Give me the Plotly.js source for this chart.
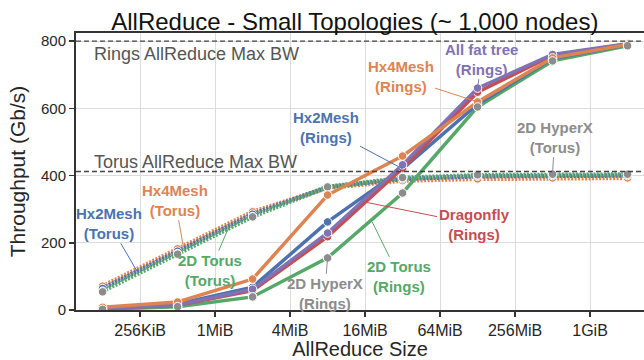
<!DOCTYPE html>
<html><head><meta charset="utf-8">
<script src="https://cdn.plot.ly/plotly-3.0.1.min.js"></script>
<style>html,body{margin:0;padding:0;background:#fff}#chart{width:644px;height:360px}</style>
</head><body><div id="chart"></div>
<script>
// message sizes (bytes)
const sizes = [131072, 524288, 2097152, 8388608, 33554432, 134217728, 536870912, 2147483648];
const tickVals = [262144, 1048576, 4194304, 16777216, 67108864, 268435456, 1073741824];
const tickText = ['256KiB', '1MiB', '4MiB', '16MiB', '64MiB', '256MiB', '1GiB'];

// Torus AllReduce series (Gb/s)
const hx4meshTorus  = [71, 182, 292, 363, 385, 390, 393, 393];
const hx2meshTorus  = [64, 175, 285, 366, 390, 398, 400, 400];
const torus2dTorus  = [56, 168, 278, 366, 393, 401, 403, 403];
const hyperxTorus   = [54, 166, 277, 366, 394, 402, 404, 404];

// Rings AllReduce series (Gb/s)
const hx4meshRings  = [8, 24, 92, 342, 458, 619, 750, 790];
const hx2meshRings  = [5, 18, 68, 262, 420, 612, 748, 789];
const fattreeRings  = [4, 15, 62, 229, 432, 660, 760, 792];
const dragonflyRings= [4, 14, 58, 218, 422, 648, 757, 791];
const torus2dRings  = [2, 10, 39, 155, 348, 604, 741, 786];
const hyperxRings   = [2, 10, 39, 155, 348, 604, 741, 786];

// max bandwidth reference lines
const ringsMaxBW = 800;
const torusMaxBW = 412;

const C = {blue:'#4C72B0', orange:'#DD8452', green:'#55A868', red:'#C44E52', purple:'#8172B3', gray:'#8C8C8C'};

function tr(y, color, dotted, mode){
  return {x: sizes, y: y, type:'scatter', mode: mode || 'lines+markers',
    line:{color:color, width: dotted ? 4.5 : 3.5, dash: dotted ? '2px,1.5px' : 'solid'},
    marker:{color:color, size:8.5, line:{color:'#fff', width:1}}, showlegend:false, hoverinfo:'skip'};
}
const data = [
  tr(hx4meshTorus, C.orange, true),
  tr(hx2meshTorus, C.blue, true),
  tr(torus2dTorus, C.green, true),
  tr(hyperxTorus, C.gray, true, 'markers'),
  tr(torus2dRings, C.green, false),
  tr(hx2meshRings, C.blue, false),
  tr(dragonflyRings, C.red, false),
  tr(fattreeRings, C.purple, false),
  tr(hx4meshRings, C.orange, false),
  tr(hyperxRings, C.gray, false, 'markers')
];

const L = Math.log10;
function ann(txt, color, xb, y, ax, ay){
  return {x: L(xb), y: y, xref:'x', yref:'y', text:'<b>'+txt+'</b>', showarrow:true,
    arrowhead:0, arrowwidth:1, arrowcolor:color, ax:ax, ay:ay, standoff:0,
    font:{family:'Liberation Sans, Arial, sans-serif', size:15, color:color}, align:'center'};
}
const annotations = [
  ann('All fat tree<br>(Rings)', C.purple, sizes[5], fattreeRings[5], 4, -29),
  ann('Hx4Mesh<br>(Rings)', C.orange, sizes[5], hx4meshRings[5], -77, -25),
  ann('Hx2Mesh<br>(Rings)', C.blue, sizes[4], hx2meshRings[4], -77, -41),
  ann('2D HyperX<br>(Torus)', C.gray, sizes[6], hyperxTorus[6], 2, -37),
  ann('Dragonfly<br>(Rings)', C.red, 16777216, 321, 109, 22),
  ann('2D Torus<br>(Rings)', C.green, Math.pow(2,24.19), 262, 27, 55),
  ann('2D HyperX<br>(Rings)', C.gray, sizes[3], hyperxRings[3], -3, 36),
  ann('2D Torus<br>(Torus)', C.green, Math.pow(2,20.35), 242, -18, 42),
  ann('Hx4Mesh<br>(Torus)', C.orange, Math.pow(2,19.15), 190, -8, -46),
  ann('Hx2Mesh<br>(Torus)', C.blue, Math.pow(2,17.92), 115, -28, -48),
  {x:0.029, y:ringsMaxBW, xref:'paper', yref:'y', text:'Rings AllReduce Max BW', showarrow:false,
   xanchor:'left', yanchor:'top', yshift:-1, font:{family:'Liberation Sans, Arial, sans-serif', size:18, color:'#555'}},
  {x:0.029, y:torusMaxBW, xref:'paper', yref:'y', text:'Torus AllReduce Max BW', showarrow:false,
   xanchor:'left', yanchor:'bottom', yshift:-2, font:{family:'Liberation Sans, Arial, sans-serif', size:18, color:'#555'}}
];

const layout = {
  width:644, height:360, margin:{l:76, r:0, t:33, b:50},
  paper_bgcolor:'#fff', plot_bgcolor:'#fff',
  font:{family:'Liberation Sans, Arial, sans-serif', color:'#262626'},
  title:{text:'AllReduce - Small Topologies (~ 1,000 nodes)', x:0.551, xanchor:'center', y:0.917, yanchor:'bottom',
    font:{size:24, color:'#111'}},
  xaxis:{type:'log', range:[4.904, 9.464], tickvals:tickVals, ticktext:tickText,
    showgrid:true, gridcolor:'#dcdcdc', gridwidth:1, zeroline:false,
    showline:true, linecolor:'#333', linewidth:2, mirror:true,
    ticks:'outside', ticklen:5, tickcolor:'#333', tickwidth:1.5,
    tickfont:{size:16, color:'#262626'},
    title:{text:'AllReduce Size', font:{size:20, color:'#262626'}, standoff:4}},
  yaxis:{range:[0, 824], tickvals:[0,200,400,600,800], showgrid:true, gridcolor:'#dcdcdc', gridwidth:1, zeroline:false,
    showline:true, linecolor:'#333', linewidth:2,
    ticks:'outside', ticklen:5, tickcolor:'#333', tickwidth:1.5,
    tickfont:{size:15, color:'#262626'},
    title:{text:'Throughput (Gb/s)', font:{size:21, color:'#262626'}, standoff:10}},
  shapes:[
    {type:'line', xref:'paper', x0:0, x1:1, yref:'y', y0:ringsMaxBW, y1:ringsMaxBW, line:{color:'#444', width:1.3, dash:'5px,3px'}},
    {type:'line', xref:'paper', x0:0, x1:1, yref:'y', y0:torusMaxBW, y1:torusMaxBW, line:{color:'#444', width:1.3, dash:'5px,3px'}}
  ],
  annotations: annotations
};
Plotly.newPlot('chart', data, layout, {staticPlot:true, displayModeBar:false});
</script></body></html>
